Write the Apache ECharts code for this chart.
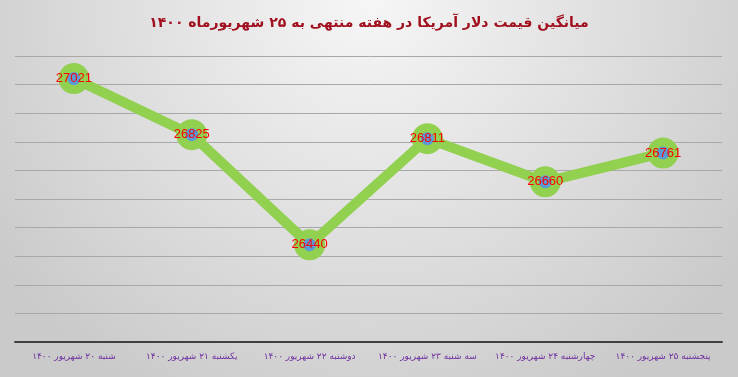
<!DOCTYPE html>
<html>
<head>
<meta charset="utf-8">
<script src="https://cdn.jsdelivr.net/npm/echarts@6/dist/echarts.min.js"></script>
<style>html,body{margin:0;padding:0;}#c{width:738px;height:377px;}</style>
</head>
<body>
<div id="c"></div>
<script>
const titleText = 'میانگین قیمت دلار آمریکا در هفته منتهی به ۲۵ شهریورماه ۱۴۰۰';
const categories = [
  'شنبه ۲۰ شهریور ۱۴۰۰',
  'یکشنبه ۲۱ شهریور ۱۴۰۰',
  'دوشنبه ۲۲ شهریور ۱۴۰۰',
  'سه شنبه ۲۳ شهریور ۱۴۰۰',
  'چهارشنبه ۲۴ شهریور ۱۴۰۰',
  'پنجشنبه ۲۵ شهریور ۱۴۰۰'
];
const prices = [27021, 26825, 26440, 26811, 26660, 26761];
const yMin = 26100, yMax = 27100, yStep = 100;

const chart = echarts.init(document.getElementById('c'));
chart.setOption({
  backgroundColor: {
    type: 'radial', x: 0.5, y: 0.0, r: 1.2,
    colorStops: [{offset: 0, color: '#f6f6f6'}, {offset: 0.6, color: '#dcdcdc'}, {offset: 1, color: '#cacaca'}]
  },
  title: {
    text: titleText, left: 'center', top: 11,
    textStyle: {color: '#A0101E', fontSize: 14, fontWeight: 'bold', fontFamily: 'DejaVu Sans'}
  },
  grid: {left: 15, right: 16, top: 56, bottom: 35},
  xAxis: {
    type: 'category', data: categories, boundaryGap: true,
    axisLine: {lineStyle: {color: '#404040', width: 2}},
    axisTick: {show: false},
    axisLabel: {interval: 0, color: '#7030A0', fontSize: 9, fontFamily: 'DejaVu Sans', margin: 10}
  },
  yAxis: {
    type: 'value', min: yMin, max: yMax, interval: yStep,
    axisLabel: {show: false}, axisLine: {show: false}, axisTick: {show: false},
    splitLine: {lineStyle: {color: '#a8a8a8', width: 1}}
  },
  series: [{
    type: 'line', data: prices,
    lineStyle: {color: '#92D050', width: 10},
    symbol: 'circle', symbolSize: 22,
    itemStyle: {color: '#5B9BD5', borderColor: '#92D050', borderWidth: 9},
    label: {show: true, position: 'inside', color: '#FF0000', fontSize: 13, fontFamily: 'Liberation Sans'},
    emphasis: {disabled: true},
    animation: false
  }]
});
</script>
</body>
</html>
